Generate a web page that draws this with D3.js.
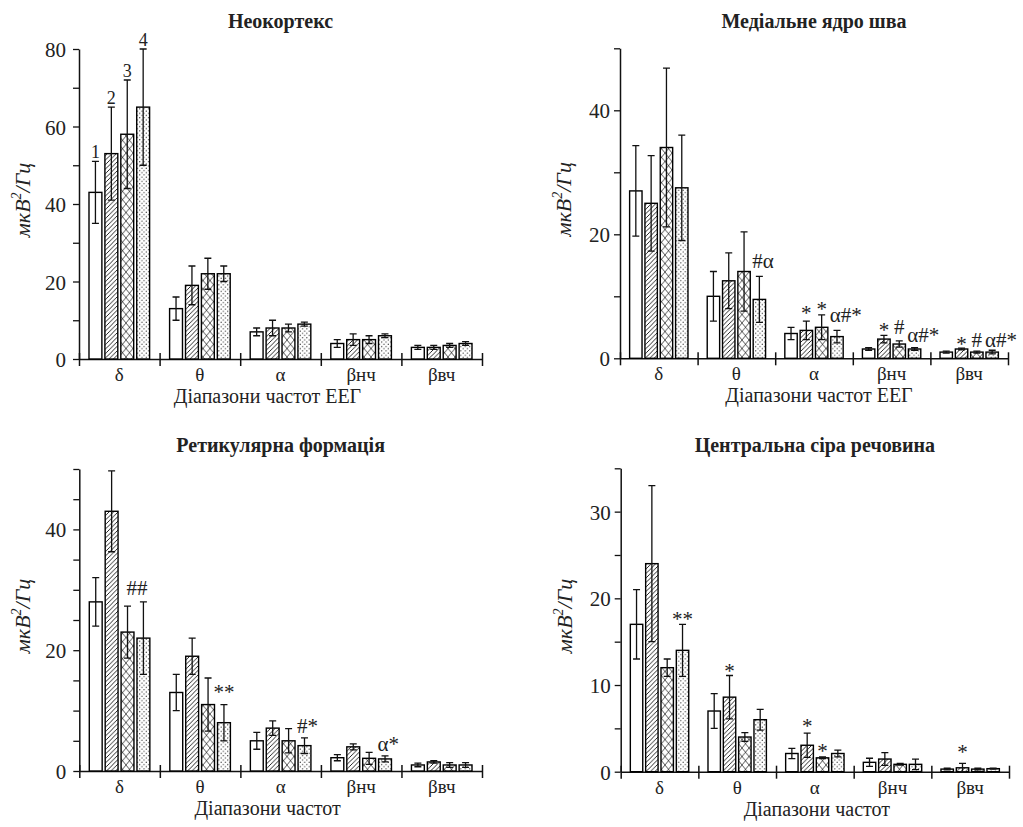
<!DOCTYPE html>
<html lang="uk">
<head>
<meta charset="utf-8">
<title>Спектральна потужність ЕЕГ</title>
<script src="https://cdnjs.cloudflare.com/ajax/libs/d3/7.8.5/d3.min.js"></script>
<style>
  body { margin: 0; background: #fff; }
  svg { font-family: "Times New Roman", "Liberation Serif", "DejaVu Serif", "Noto Serif", serif; }
</style>
</head>
<body>
<script>
// ---- data ----
const bands = ["δ", "θ", "α", "βнч", "βвч"];
const groupLabels = ["1", "2", "3", "4"];

// Неокортекс
const neoMeans = [[43, 53, 58, 65], [13, 19, 22, 22], [7, 8, 8, 9], [4, 5, 5, 6], [3, 3, 3.5, 4]];
const neoErrs  = [[8, 12, 14, 15], [3, 5, 4, 2], [1, 2, 1, 0.5], [1, 1.5, 1, 0.5], [0.5, 0.5, 0.5, 0.5]];
const neoTicks = [0, 20, 40, 60, 80];

// Медіальне ядро шва
const raMeans = [[27, 25, 34, 27.5], [10, 12.5, 14, 9.5], [4, 4.5, 5, 3.5], [1.5, 3.1, 2.3, 1.5], [1, 1.5, 1, 1]];
const raErrs  = [[7.3, 7.7, 12.8, 8.5], [4, 4.5, 6.4, 3.7], [1, 1.5, 2, 1], [0.2, 0.6, 0.5, 0.2], [0.15, 0.15, 0.15, 0.3]];
const raTicks = [0, 20, 40];
// [band, bar, text, baseline value]
const raMarks = [[1, 3, "#α", 14.6], [2, 1, "*", 6.2], [2, 2, "*", 6.9], [2, 3, "α#*", 5.9],
                 [3, 1, "*", 3.5], [3, 2, "#", 4.0], [3, 3, "α#*", 2.7],
                 [4, 1, "*", 1.25], [4, 2, "#", 1.87], [4, 3, "α#*", 1.87]];

// Ретикулярна формація
const retMeans = [[28, 43, 23, 22], [13, 19, 11, 8], [5, 7.1, 5, 4.2], [2.2, 4, 2.1, 2], [1, 1.5, 1, 1]];
const retErrs  = [[4, 6.7, 4.3, 6], [3, 3, 4.4, 3], [1.4, 1.2, 2, 1.3], [0.5, 0.5, 1, 0.5], [0.3, 0.2, 0.4, 0.4]];
const retTicks = [0, 20, 40];
const retMarks = [[0, 2, "##", 29.1], [1, 3, "**", 11.9], [2, 3, "#*", 6.3], [3, 3, "α*", 3.3]];

// Центральна сіра речовина
const cgMeans = [[17, 24, 12, 14], [7, 8.6, 4, 6], [2.1, 3.05, 1.6, 2.1], [1.08, 1.46, 0.85, 0.85], [0.3, 0.45, 0.3, 0.35]];
const cgErrs  = [[4, 9, 1, 3], [2, 2.5, 0.5, 1.2], [0.6, 1.4, 0.1, 0.4], [0.47, 0.73, 0.1, 0.6], [0.1, 0.5, 0.1, 0.05]];
const cgTicks = [0, 10, 20, 30];
const cgMarks = [[0, 3, "**", 16.8], [1, 1, "*", 10.8], [2, 1, "*", 4.45], [2, 2, "*", 1.58], [4, 1, "*", 1.43]];

// ---- layout ----
const panels = [
  {title: "Неокортекс", xTitle: "Діапазони частот ЕЕГ", means: neoMeans, errs: neoErrs, ticks: neoTicks, marks: [],
   ymax: 80, minor: 10, left: 79, right: 482, top: 49, bottom: 359, titleY: 28, xTitleShift: -13, gap: 13, numbers: true},
  {title: "Медіальне ядро шва", xTitle: "Діапазони частот ЕЕГ", means: raMeans, errs: raErrs, ticks: raTicks, marks: raMarks,
   ymax: 50, minor: 10, left: 620, right: 1008, top: 48.3, bottom: 358.3, titleY: 28, xTitleShift: 5, gap: 10},
  {title: "Ретикулярна формація", xTitle: "Діапазони частот", means: retMeans, errs: retErrs, ticks: retTicks, marks: retMarks,
   ymax: 50, minor: 5, left: 79.3, right: 482, top: 469, bottom: 771, titleY: 452, xTitleShift: -13, gap: 13},
  {title: "Центральна сіра речовина", xTitle: "Діапазони частот", means: cgMeans, errs: cgErrs, ticks: cgTicks, marks: cgMarks,
   ymax: 35, minor: 5, left: 620.7, right: 1009, top: 468.3, bottom: 771.7, titleY: 452, xTitleShift: 2, gap: 10}
];

const serif = '"Times New Roman", "Liberation Serif", "DejaVu Serif", "Noto Serif", serif';

const svg = d3.select("body").append("svg")
    .attr("width", 1023)
    .attr("height", 827)
    .style("background-color", "#FFFFFF");

// fill patterns for the four groups
const defs = svg.append("defs");
const hatch = defs.append("pattern").attr("id", "p2")
    .attr("patternUnits", "userSpaceOnUse").attr("width", 4.5).attr("height", 4.5);
hatch.append("rect").attr("width", 4.5).attr("height", 4.5).attr("fill", "#fff");
hatch.append("path").attr("d", "M-1,1 l2,-2 M0,4.5 l4.5,-4.5 M3.5,5.5 l2,-2")
    .attr("stroke", "#111").attr("stroke-width", 0.9);

const cross = defs.append("pattern").attr("id", "p3")
    .attr("patternUnits", "userSpaceOnUse").attr("width", 7).attr("height", 8.5);
cross.append("rect").attr("width", 7).attr("height", 8.5).attr("fill", "#fff");
cross.append("path").attr("d", "M0,0 L7,8.5 M7,0 L0,8.5")
    .attr("stroke", "#111").attr("stroke-width", 0.7);

const dots = defs.append("pattern").attr("id", "p4")
    .attr("patternUnits", "userSpaceOnUse").attr("width", 4.4).attr("height", 4.4);
dots.append("rect").attr("width", 4.4).attr("height", 4.4).attr("fill", "#fff");
dots.append("circle").attr("cx", 1.1).attr("cy", 1.1).attr("r", 0.6).attr("fill", "#222");
dots.append("circle").attr("cx", 3.3).attr("cy", 3.3).attr("r", 0.6).attr("fill", "#222");

const fills = ["#fff", "url(#p2)", "url(#p3)", "url(#p4)"];

panels.forEach(function(p) {
  const g = svg.append("g").attr("font-family", serif);

  const x0 = d3.scaleBand().domain(bands).range([p.left, p.right]);
  const bw = x0.bandwidth();
  const pad = bw * 0.124;
  const x1 = d3.scaleBand().domain(d3.range(4)).range([pad, bw - pad]).paddingInner(0.19);
  const y = d3.scaleLinear().domain([0, p.ymax]).range([p.bottom, p.top]);

  // Y axis
  const yAxis = d3.axisLeft(y)
      .tickValues(d3.range(0, p.ymax + 0.001, p.minor))
      .tickSize(6)
      .tickSizeOuter(0)
      .tickPadding(p.gap - 6)
      .tickFormat(d => p.ticks.includes(d) ? d : "");
  const ya = g.append("g")
      .attr("transform", `translate(${p.left},0)`)
      .call(yAxis)
      .attr("font-family", serif)
      .attr("font-size", "21px");
  ya.select(".domain").attr("stroke-width", 1.5).attr("stroke", "#111");
  ya.selectAll(".tick line").attr("stroke-width", 1.3).attr("stroke", "#111");
  ya.selectAll(".tick text").attr("fill", "#222").attr("dy", "0.36em");

  // X axis with separators between bands
  const sepScale = d3.scaleLinear().domain([0, bands.length]).range([p.left, p.right]);
  const xa = g.append("g")
      .attr("transform", `translate(0,${p.bottom})`)
      .call(d3.axisBottom(sepScale).ticks(bands.length).tickSize(7).tickSizeOuter(0).tickFormat(""));
  xa.select(".domain").attr("stroke-width", 1.5).attr("stroke", "#111");
  xa.selectAll(".tick line").attr("y1", -6).attr("stroke-width", 1.5).attr("stroke", "#111");

  // band labels
  g.selectAll("bandlabel")
      .data(bands)
      .join("text")
      .attr("x", d => x0(d) + bw / 2)
      .attr("y", p.bottom + 22)
      .attr("text-anchor", "middle")
      .attr("font-size", "19px")
      .attr("fill", "#222")
      .text(d => d);

  // bars
  const rows = [];
  bands.forEach(function(b, i) {
    p.means[i].forEach(function(m, j) {
      rows.push({band: b, i: i, j: j, m: m, e: p.errs[i][j]});
    });
  });

  g.selectAll("mybar")
      .data(rows)
      .join("rect")
      .attr("x", d => x0(d.band) + x1(d.j))
      .attr("y", d => y(d.m))
      .attr("width", x1.bandwidth())
      .attr("height", d => y(0) - y(d.m))
      .attr("fill", d => fills[d.j])
      .attr("stroke", "#000")
      .attr("stroke-width", 1.4);

  // error bars
  const cx = d => x0(d.band) + x1(d.j) + x1.bandwidth() / 2;
  const cap = 3.5;
  g.selectAll("myerr")
      .data(rows)
      .join("path")
      .attr("d", d => {
        const top = y(d.m + d.e), bot = y(Math.max(0, d.m - d.e)), c = cx(d);
        return `M${c},${top}V${bot}M${c - cap},${top}H${c + cap}M${c - cap},${bot}H${c + cap}`;
      })
      .attr("fill", "none")
      .attr("stroke", "#111")
      .attr("stroke-width", 1.3);

  // group numbers above first band
  if (p.numbers) {
    g.selectAll("mynum")
        .data(rows.filter(d => d.i === 0))
        .join("text")
        .attr("x", cx)
        .attr("y", d => y(d.m + d.e) - 3)
        .attr("text-anchor", "middle")
        .attr("font-size", "18px")
        .attr("fill", "#222")
        .text(d => groupLabels[d.j]);
  }

  // significance marks
  g.selectAll("mymark")
      .data(p.marks)
      .join("text")
      .attr("x", d => {
        const bl = x0(bands[d[0]]) + x1(d[1]);
        if (d[2].length === 1 || d[2] === "**") return bl + x1.bandwidth() / 2;
        if (d[2] === "##") return bl + x1.bandwidth() / 2 - 1;
        return bl - 1;
      })
      .attr("y", d => y(d[3]))
      .attr("text-anchor", d => (d[2].length === 1 || d[2] === "**") ? "middle" : "start")
      .attr("font-size", "21px")
      .attr("fill", "#222")
      .text(d => d[2]);

  // titles
  g.append("text")
      .attr("x", (p.left + p.right) / 2)
      .attr("y", p.titleY)
      .attr("text-anchor", "middle")
      .attr("font-size", "20px")
      .attr("font-weight", 700)
      .attr("fill", "#222")
      .text(p.title);

  g.append("text")
      .attr("x", (p.left + p.right) / 2 + p.xTitleShift)
      .attr("y", p.bottom + 44)
      .attr("text-anchor", "middle")
      .attr("font-size", "20px")
      .attr("fill", "#222")
      .text(p.xTitle);

  const yl = g.append("text")
      .attr("transform", `translate(${p.left - 49},${(p.top + p.bottom) / 2 - 4}) rotate(-90)`)
      .attr("text-anchor", "middle")
      .attr("font-size", "22px")
      .attr("font-style", "italic")
      .attr("fill", "#222");
  yl.append("tspan").text("мкВ");
  yl.append("tspan").attr("font-size", "14px").attr("dy", "-9").text("2");
  yl.append("tspan").attr("dy", "9").text("/Гц");
});
</script>
</body>
</html>
